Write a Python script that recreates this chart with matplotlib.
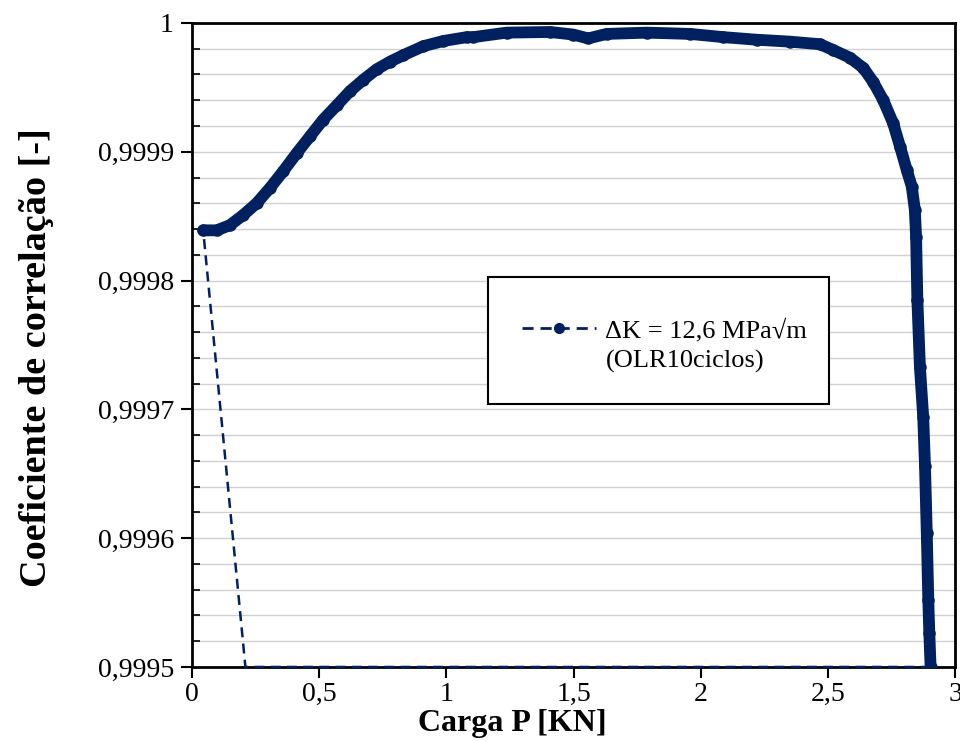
import matplotlib
matplotlib.use('Agg')
import matplotlib.pyplot as plt
from matplotlib.lines import Line2D
from matplotlib.patches import Rectangle
from matplotlib.ticker import MultipleLocator, FuncFormatter

plt.rcParams['font.family'] = ['Liberation Serif', 'DejaVu Serif']

# Load P [kN] vs correlation coefficient
carga = [0.044, 0.097, 0.149, 0.202, 0.254, 0.307, 0.359, 0.412, 0.464, 0.516,
         0.569, 0.621, 0.674, 0.726, 0.779, 0.831, 0.910, 0.988, 1.080, 1.106,
         1.237, 1.408, 1.499, 1.558, 1.630, 1.788, 1.958, 2.089, 2.220, 2.351,
         2.469, 2.521, 2.587, 2.640, 2.679, 2.718, 2.757, 2.784, 2.810, 2.830,
         2.842, 2.847, 2.852, 2.862, 2.875, 2.882, 2.889, 2.895, 2.899, 2.904]
coef = [0.999839, 0.999839, 0.999843, 0.999851, 0.999860, 0.999872, 0.999885, 0.999899, 0.999912, 0.999925,
        0.999936, 0.999947, 0.999956, 0.999964, 0.999970, 0.999975, 0.999982, 0.999986, 0.999989, 0.999989,
        0.9999925, 0.999993, 0.999991, 0.999988, 0.9999915, 0.9999925, 0.9999915, 0.999989, 0.999987, 0.9999855,
        0.9999835, 0.999979, 0.999973, 0.999965, 0.999954, 0.999940, 0.999922, 0.999904, 0.999886, 0.999873,
        0.999855, 0.999834, 0.999785, 0.999733, 0.999694, 0.999656, 0.999604, 0.999552, 0.999526, 0.999500]

# closing part of the series (clipped at the axis floor)
carga_ret = [2.904, 0.21, 0.044]
coef_ret = [0.9995, 0.9995, 0.999839]

serie_label = 'ΔK = 12,6 MPa√m'
serie_label2 = '(OLR10ciclos)'
cor = '#002060'

fig = plt.figure(figsize=(9.6, 7.41), dpi=100)
ax = fig.add_axes([0.2, 0.0999, 0.7948, 0.8691])

ax.plot(carga_ret, coef_ret, linestyle=(0, (4, 2.5)), color=cor, linewidth=1.8,
        zorder=3, clip_on=False)
ax.plot(carga, coef, '-', color=cor, linewidth=8.5, solid_capstyle='round',
        solid_joinstyle='round', zorder=4)
ax.plot(carga, coef, 'o', color=cor, markersize=8, zorder=5)

ax.set_xlim(0, 3)
ax.set_ylim(0.9995, 1.0)
ax.xaxis.set_major_locator(MultipleLocator(0.5))
ax.yaxis.set_major_locator(MultipleLocator(0.0001))
ax.yaxis.set_minor_locator(MultipleLocator(0.00002))


def fmt(v, pos, nd):
    s = f'{v:.{nd}f}'.rstrip('0').rstrip('.')
    return s.replace('.', ',')


ax.xaxis.set_major_formatter(FuncFormatter(lambda v, p: fmt(v, p, 1)))
ax.yaxis.set_major_formatter(FuncFormatter(lambda v, p: fmt(v, p, 4)))

ax.grid(True, which='both', axis='y', color='#d0d0d0', linewidth=1.0, zorder=0)
ax.set_axisbelow(True)

for sp in ax.spines.values():
    sp.set_linewidth(2.0)
    sp.set_color('black')

ax.tick_params(axis='both', which='major', direction='out', length=8, width=1.5,
               labelsize=20, pad=5)
ax.tick_params(axis='x', which='major', pad=3)
ax.tick_params(axis='y', which='minor', direction='in', length=6, width=1.2)
ax.tick_params(axis='x', which='minor', bottom=False)

ax.set_xlabel('Carga P [KN]', fontsize=23, fontweight='bold')
ax.xaxis.set_label_coords(0.42, -0.066)
ax.set_ylabel('Coeficiente de correlação [-]', fontsize=27.5, fontweight='bold')
ax.yaxis.set_label_coords(-0.204, 0.48)
ax.yaxis.label.set_va('center')

# legend box
ax.add_patch(Rectangle((0.388, 0.408), 0.447, 0.198, transform=ax.transAxes,
                       facecolor='white', edgecolor='black', linewidth=1.5, zorder=6))
handle = Line2D([], [], color=cor, linestyle=(0, (4, 2.5)), linewidth=2,
                marker='o', markersize=7)
ax.legend([handle], [serie_label], loc='center left', bbox_to_anchor=(0.432, 0.523),
          frameon=False, fontsize=19, handlelength=2.8, handletextpad=0.35,
          borderpad=0, borderaxespad=0).set_zorder(7)
ax.text(0.543, 0.475, serie_label2, transform=ax.transAxes, fontsize=19,
        va='center', ha='left', zorder=7)

fig.savefig('out.png', dpi=100)
